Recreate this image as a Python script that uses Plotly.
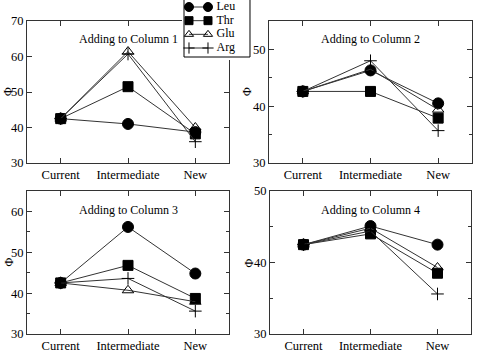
import plotly.graph_objects as go

stages = ["Current", "Intermediate", "New"]
series = ["Leu", "Thr", "Glu", "Arg"]
panel_titles = ["Adding to Column 1", "Adding to Column 2", "Adding to Column 3", "Adding to Column 4"]

# values per panel, per series (Current, Intermediate, New)
col1_leu = [42.5, 41.0, 38.7]
col1_thr = [42.5, 51.5, 38.2]
col1_glu = [42.5, 61.4, 40.0]
col1_arg = [42.5, 60.7, 36.0]

col2_leu = [42.6, 46.3, 40.5]
col2_thr = [42.6, 42.6, 37.9]
col2_glu = [42.6, 46.5, 39.4]
col2_arg = [42.6, 48.0, 35.7]

col3_leu = [42.5, 56.2, 44.8]
col3_thr = [42.5, 46.8, 38.7]
col3_glu = [42.5, 40.7, 37.9]
col3_arg = [42.5, 43.6, 35.6]

col4_leu = [42.5, 45.1, 42.5]
col4_thr = [42.5, 44.0, 38.5]
col4_glu = [42.5, 44.8, 39.3]
col4_arg = [42.5, 44.4, 35.6]

y_ranges = [[30, 70], [30, 55], [30, 65], [30, 50]]
y_minor = [False, True, True, True]

panels = [
    [col1_leu, col1_thr, col1_glu, col1_arg],
    [col2_leu, col2_thr, col2_glu, col2_arg],
    [col3_leu, col3_thr, col3_glu, col3_arg],
    [col4_leu, col4_thr, col4_glu, col4_arg],
]

symbols = ["circle", "square", "triangle-up-open", "cross-thin-open"]
sizes = [11, 10, 10, 9]
legend_sizes = [9, 8, 8, 8]

W, H = 477, 356
FONT = "Times New Roman, Liberation Serif, serif"
LINE = "#333333"

# panel pixel boxes (left, right, top, bottom)
boxes = [(27, 229, 21, 163), (269, 472, 21, 163), (27, 229, 191, 334), (270, 471, 191, 334)]

fig = go.Figure()

for p, vals in enumerate(panels):
    ax = "" if p == 0 else str(p + 1)
    for s, name in enumerate(series):
        fig.add_trace(go.Scatter(
            x=stages, y=vals[s], name=name, mode="lines+markers",
            xaxis="x" + ax, yaxis="y" + ax, showlegend=False,
            line=dict(color=LINE, width=1),
            marker=dict(symbol=symbols[s], size=sizes[s], color="black",
                        line=dict(color="black", width=1)),
        ))

# custom legend (line with a marker at each end, as in the reference)
for s, name in enumerate(series):
    fig.add_trace(go.Scatter(
        x=[0, 1], y=[s, s], mode="lines+markers", xaxis="x5", yaxis="y5",
        showlegend=False, hoverinfo="skip",
        line=dict(color=LINE, width=1),
        marker=dict(symbol=symbols[s], size=legend_sizes[s], color="black",
                    line=dict(color="black", width=1)),
    ))
fig.add_trace(go.Scatter(
    x=[1.45] * len(series), y=list(range(len(series))), text=series,
    mode="text", textposition="middle right", xaxis="x5", yaxis="y5",
    showlegend=False, hoverinfo="skip",
    textfont=dict(family=FONT, size=12, color="black"),
))

layout = dict(
    width=W, height=H,
    margin=dict(l=0, r=0, t=0, b=0, autoexpand=False),
    paper_bgcolor="white", plot_bgcolor="white",
    font=dict(family=FONT, size=12.5, color="black"),
    showlegend=False,
    annotations=[],
    shapes=[dict(
        type="rect", xref="x5", yref="y5",
        x0=-0.263, x1=3.21, y0=3.658, y1=-0.8, layer="below",
        fillcolor="white", line=dict(color="black", width=1),
    )],
)

# legend axes: domain 182..252 px wide, 0..60 px tall
layout["xaxis5"] = dict(domain=[182 / W, 252 / W], anchor="y5", range=[-0.368, 3.316],
                        visible=False, fixedrange=True)
layout["yaxis5"] = dict(domain=[1 - 60 / H, 1], anchor="x5", range=[3.877, -0.512],
                        visible=False, fixedrange=True)

for p, (l, r, t, b) in enumerate(boxes):
    ax = "" if p == 0 else str(p + 1)
    xa = dict(
        domain=[l / W, r / W], anchor="y" + ax,
        type="category", categoryorder="array", categoryarray=stages,
        range=[-0.5, 2.5], showline=True, linecolor=LINE, linewidth=1,
        mirror="ticks", ticks="inside", ticklen=5, tickcolor=LINE,
        showgrid=False, zeroline=False,
        tickfont=dict(family=FONT, size=12.5, color="black"),
    )
    ya = dict(
        domain=[1 - b / H, 1 - t / H], anchor="x" + ax,
        range=y_ranges[p], dtick=10, tick0=30,
        showline=True, linecolor=LINE, linewidth=1,
        mirror="ticks", ticks="inside", ticklen=5, tickcolor=LINE,
        showgrid=False, zeroline=False,
        tickfont=dict(family=FONT, size=12.5, color="black"),
    )
    if y_minor[p]:
        ya["minor"] = dict(ticks="inside", ticklen=3, dtick=5, tick0=30,
                           tickcolor=LINE, showgrid=False)
    layout["xaxis" + ax] = xa
    layout["yaxis" + ax] = ya
    layout["annotations"].append(dict(
        text=panel_titles[p], xref="x" + ax + " domain", yref="y" + ax + " domain",
        x=0.5, y=0.87, xanchor="center", yanchor="middle", showarrow=False,
        font=dict(family=FONT, size=12, color="black"),
    ))
    layout["annotations"].append(dict(
        text="Φ", xref="paper", yref="paper",
        x=max(l - 22, 8) / W, y=1 - (t + b) / 2 / H, xanchor="center", yanchor="middle",
        showarrow=False, textangle=-90,
        font=dict(family=FONT, size=12, color="black"),
    ))

fig.update_layout(**layout)
fig.write_html("out.html")
